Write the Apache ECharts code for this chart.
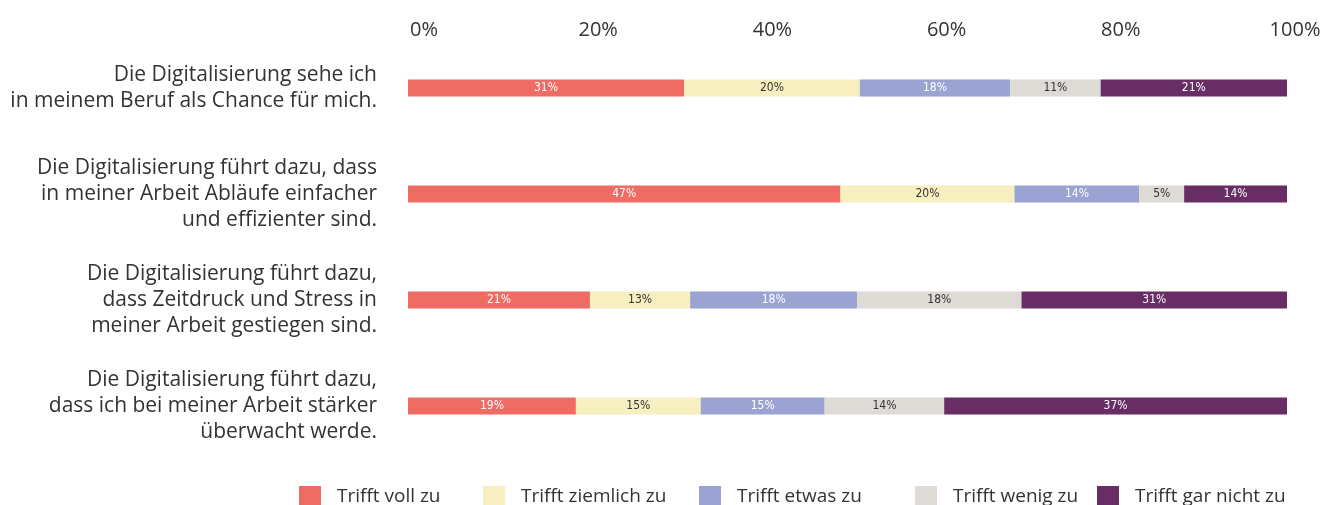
<!DOCTYPE html>
<html><head><meta charset="utf-8">
<script src="https://cdn.jsdelivr.net/npm/echarts@6/dist/echarts.min.js"></script>
<style>html,body{margin:0;padding:0;background:#fff}#c{width:1325px;height:505px}</style>
</head><body><div id="c"></div>
<script>
const categories = [
  "Die Digitalisierung sehe ich\nin meinem Beruf als Chance für mich.",
  "Die Digitalisierung führt dazu, dass\nin meiner Arbeit Abläufe einfacher\nund effizienter sind.",
  "Die Digitalisierung führt dazu,\ndass Zeitdruck und Stress in\nmeiner Arbeit gestiegen sind.",
  "Die Digitalisierung führt dazu,\ndass ich bei meiner Arbeit stärker\nüberwacht werde."
];
const seriesNames = ["Trifft voll zu", "Trifft ziemlich zu", "Trifft etwas zu", "Trifft wenig zu", "Trifft gar nicht zu"];
// bar shares (%) as drawn in the picture
const vollZu = [31.4, 49.2, 20.7, 19.1];
const ziemlichZu = [20.0, 19.8, 11.4, 14.2];
const etwasZu = [17.1, 14.2, 19.0, 14.1];
const wenigZu = [10.3, 5.1, 18.7, 13.6];
const garNichtZu = [21.2, 11.7, 30.2, 39.0];
// printed percentage labels
const vollZuLabels = [31, 47, 21, 19];
const ziemlichZuLabels = [20, 20, 13, 15];
const etwasZuLabels = [18, 14, 18, 15];
const wenigZuLabels = [11, 5, 18, 14];
const garNichtZuLabels = [21, 14, 31, 37];
const tickLabels = ["0%", "20%", "40%", "60%", "80%", "100%"];

const colors = ["#EF6C64", "#F8EFC0", "#9BA3D2", "#DEDAD6", "#672D64"];
const labelColors = ["#ffffff", "#333333", "#ffffff", "#333333", "#ffffff"];
const values = [vollZu, ziemlichZu, etwasZu, wenigZu, garNichtZu];
const labels = [vollZuLabels, ziemlichZuLabels, etwasZuLabels, wenigZuLabels, garNichtZuLabels];
const legendLefts = [294, 478, 694, 910, 1092];

const FONT = "Open Sans";
const chart = echarts.init(document.getElementById('c'));
chart.setOption({
  animation: false,
  color: colors,
  grid: [
    { left: 408, right: 38, top: 35, bottom: 46 },
    { left: 424, right: 30, top: 48, height: 10 }
  ],
  xAxis: [
    { gridIndex: 0, type: 'value', min: 0, max: 100, show: false },
    { gridIndex: 1, type: 'value', min: 0, max: 100, interval: 20, position: 'top',
      axisLine: { show: false }, axisTick: { show: false }, splitLine: { show: false },
      axisLabel: { margin: 8, fontFamily: FONT, fontSize: 20, color: '#333',
        formatter: v => tickLabels[v / 20] } }
  ],
  yAxis: [
    { gridIndex: 0, type: 'category', data: categories, inverse: true,
      axisLine: { show: false }, axisTick: { show: false },
      axisLabel: { margin: 31, fontFamily: FONT, fontSize: 21, lineHeight: 26, color: '#333', align: 'right' } },
    { gridIndex: 1, type: 'value', show: false }
  ],
  legend: seriesNames.map((name, i) => ({
    left: legendLefts[i], top: 481, itemWidth: 22, itemHeight: 22,
    icon: 'rect', data: [name],
    textStyle: { fontFamily: FONT, fontSize: 19, color: '#333', padding: [6, 0, 0, 11] }
  })),
  series: seriesNames.map((name, i) => ({
    name, type: 'bar', stack: 'total', barWidth: 17,
    xAxisIndex: 0, yAxisIndex: 0,
    data: values[i],
    itemStyle: { color: colors[i] },
    label: { show: true, position: 'inside', color: labelColors[i],
      fontFamily: "'DejaVu Sans Condensed', 'DejaVu Sans', sans-serif", fontSize: 12,
      formatter: p => labels[i][p.dataIndex] + '%' }
  }))
});
</script></body></html>
